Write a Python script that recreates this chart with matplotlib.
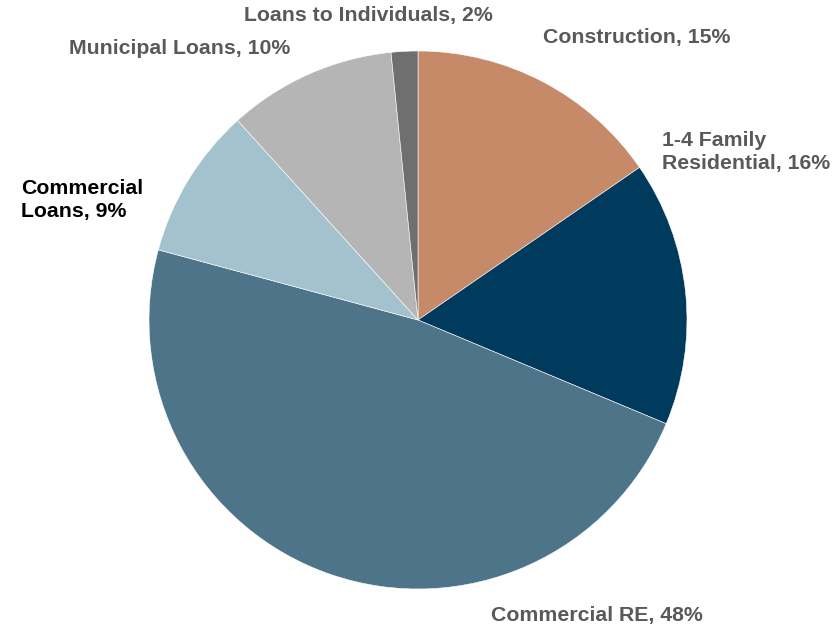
import matplotlib
matplotlib.use("Agg")
import matplotlib.pyplot as plt

# loan portfolio mix, percent of total
categories = ["Construction", "1-4 Family\nResidential", "Commercial RE",
              "Commercial\nLoans", "Municipal Loans", "Loans to Individuals"]
shares = [15.4, 15.9, 47.9, 9.1, 10.1, 1.6]
shown_pct = [15, 16, 48, 9, 10, 2]
colors = ["#C68A68", "#003A5C", "#4E7489", "#A3C2CE", "#B5B5B5", "#6F6F6F"]
label_colors = ["#595959", "#595959", "#595959", "#000000", "#595959", "#595959"]

plt.rcParams["font.family"] = ["Liberation Sans", "DejaVu Sans"]

W, H = 833, 629
cx, cy, r = 418, 320, 269


def px(x, y):
    # pixel position -> data units (pie radius = 1)
    return (x - cx) / r, (cy - y) / r


fig = plt.figure(figsize=(W / 100, H / 100), dpi=100)
ax = fig.add_axes([0, 0, 1, 1])
ax.pie(shares, colors=colors, startangle=90, counterclock=False,
       radius=1, center=(0, 0),
       wedgeprops=dict(edgecolor="white", linewidth=0.4))
ax.set_xlim(-cx / r, (W - cx) / r)
ax.set_ylim(-(H - cy) / r, cy / r)
ax.set_aspect("equal")
ax.axis("off")

# label anchors: (x, y, ha)
label_pos = [(543, 38, "left"), (662, 152, "left"), (491, 616, "left"),
             (21, 200, "left"), (69, 49, "left"), (244, 15, "left")]

for cat, pct, (x, y, ha), c in zip(categories, shown_pct, label_pos, label_colors):
    tx, ty = px(x, y)
    ax.text(tx, ty, f"{cat}, {pct}%", ha=ha, va="center", fontsize=15.3,
            fontweight="bold", color=c, linespacing=1.2)

fig.savefig("out.png", dpi=100)
